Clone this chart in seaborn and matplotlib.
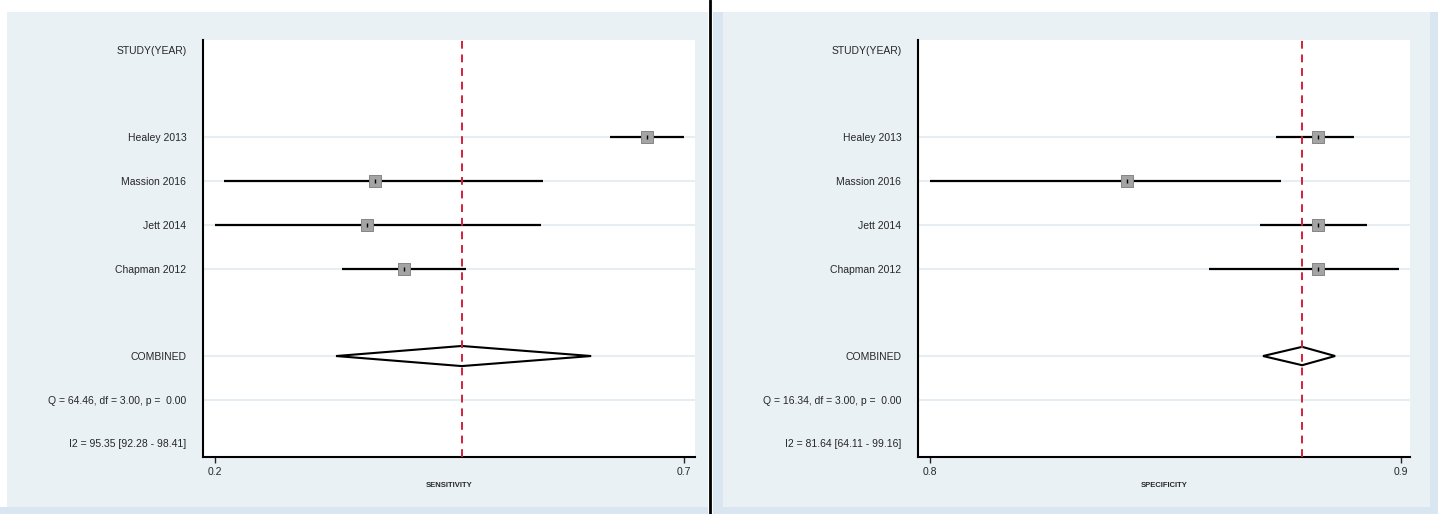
import numpy as np
import pandas as pd
import matplotlib
matplotlib.use("Agg")
import matplotlib.pyplot as plt
from matplotlib.patches import Rectangle
import seaborn as sns

# study data
studies = ["Healey 2013", "Massion 2016", "Jett 2014", "Chapman 2012"]

sens_est = [0.661, 0.371, 0.362, 0.401]
sens_lo = [0.621, 0.210, 0.200, 0.335]
sens_hi = [0.700, 0.550, 0.548, 0.468]
sens_pooled = [0.463, 0.329, 0.601]  # estimate, lower, upper
sens_q = "Q = 64.46, df = 3.00, p =  0.00"
sens_i2 = "I2 = 95.35 [92.28 - 98.41]"

spec_est = [0.8823, 0.8419, 0.8823, 0.8823]
spec_lo = [0.8735, 0.800, 0.8701, 0.8592]
spec_hi = [0.8900, 0.8745, 0.8927, 0.8996]
spec_pooled = [0.879, 0.8707, 0.886]
spec_q = "Q = 16.34, df = 3.00, p =  0.00"
spec_i2 = "I2 = 81.64 [64.11 - 99.16]"

sns.set_style("white")
plt.rcParams["font.family"] = ["Liberation Sans", "DejaVu Sans"]

W, H = 1438, 514
fig = plt.figure(figsize=(W / 100, H / 100), dpi=100)
fig.patch.set_facecolor("white")


def px_rect(x0, y0, x1, y1, color):
    fig.patches.append(Rectangle((x0 / W, 1 - y1 / H), (x1 - x0) / W, (y1 - y0) / H,
                                 transform=fig.transFigure, facecolor=color,
                                 edgecolor="none", zorder=-10))


# panel backgrounds
px_rect(0, 507, 708, 514, "#d9e5f1")
px_rect(7, 12, 708, 507, "#eaf1f4")
px_rect(713, 12, 1438, 514, "#d9e5f1")
px_rect(723, 12, 1430, 507, "#eaf1f4")
fig.add_artist(plt.Line2D([710 / W, 710 / W], [0, 1], color="black", lw=2,
                          transform=fig.transFigure))

rows_study = [2, 3, 4, 5]
row_comb, row_q, row_i2 = 7, 8, 9


def forest(ax, est, lo, hi, pooled, q, i2, xlim, ticks, xlabel, half_h):
    df = pd.DataFrame({"study": studies, "est": est, "lo": lo, "hi": hi, "row": rows_study})
    ax.set_facecolor("white")
    for r in rows_study + [row_comb, row_q]:
        ax.axhline(r, color="#e6eef3", lw=1.5, zorder=0)
    ax.hlines(df["row"], df["lo"], df["hi"], color="black", lw=1.6, zorder=2)
    sns.scatterplot(data=df, x="est", y="row", marker="s", s=85, color="#a4a4a4",
                    edgecolor="#858585", linewidth=0.7, zorder=3, ax=ax, legend=False)
    ax.scatter(df["est"], df["row"], marker="|", s=6, color="black", lw=1, zorder=4)
    c, l, u = pooled
    ax.fill([l, c, u, c, l], [row_comb, row_comb - half_h, row_comb, row_comb + half_h, row_comb],
            facecolor="white", edgecolor="black", lw=1.5, zorder=3)
    ax.axvline(c, color="#d4203c", lw=1.4, ls=(0, (4, 3)), zorder=5)
    ax.set_xlim(*xlim)
    ax.set_ylim(9.31, -0.23)
    ax.set_xticks(ticks)
    ax.set_xticklabels([str(t) for t in ticks], fontsize=7.5)
    ax.set_yticks([0] + rows_study + [row_comb, row_q, row_i2])
    ax.set_yticklabels(["STUDY(YEAR)"] + studies + ["COMBINED", q, i2], fontsize=7.5)
    ax.tick_params(axis="y", length=0, pad=12)
    ax.tick_params(axis="x", length=4, width=1, direction="out", pad=3, bottom=True)
    ax.set_xlabel(xlabel, fontsize=5.5, fontweight="bold", labelpad=4)
    ax.set_ylabel("")
    for s in ["top", "right"]:
        ax.spines[s].set_visible(False)
    for s in ["left", "bottom"]:
        ax.spines[s].set_color("black")
        ax.spines[s].set_linewidth(1.5)


ax1 = fig.add_axes([203 / W, 1 - 457 / H, 492 / W, 417 / H])
forest(ax1, sens_est, sens_lo, sens_hi, sens_pooled, sens_q, sens_i2,
       (0.1872, 0.7117), [0.2, 0.7], "SENSITIVITY", 0.23)

ax2 = fig.add_axes([918 / W, 1 - 457 / H, 492 / W, 417 / H])
forest(ax2, spec_est, spec_lo, spec_hi, spec_pooled, spec_q, spec_i2,
       (0.79745, 0.9019), [0.8, 0.9], "SPECIFICITY", 0.21)

fig.savefig("out.png", dpi=100)
